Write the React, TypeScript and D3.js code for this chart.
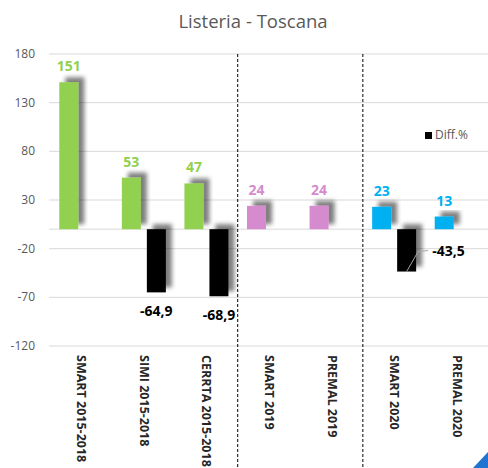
import React from "react";
import * as d3 from "d3";

const categories = ["SMART 2015-2018", "SIMI 2015-2018", "CERRTA 2015-2018", "SMART 2019", "PREMAL 2019", "SMART 2020", "PREMAL 2020"];
const values = [151, 53, 47, 24, 24, 23, 13];
const valueColors = ["#92d050", "#92d050", "#92d050", "#d58bce", "#d58bce", "#00b0f0", "#00b0f0"];
const diffValues: (number | null)[] = [null, -64.9, -68.9, null, null, -43.5, null];
const yTicks = [180, 130, 80, 30, -20, -70, -120];
const groupBreaks = [3, 5];
const title = "Listeria - Toscana";
const legendLabel = "Diff.%";

const W = 488, H = 468;
const FONT = "'Open Sans', 'Noto Sans', sans-serif";

export default function App() {
  const x = d3.scaleBand<string>().domain(categories).range([50, 488]).padding(0);
  const bw = x.bandwidth();
  const x1 = d3.scaleBand<string>().domain(["val", "diff"]).range([(bw - 44) / 2, (bw + 44) / 2]).paddingInner(0.24);
  const y = d3.scaleLinear().domain([-120, 180]).range([346, 54]);
  const fmt = (v: number) => d3.format(".1f")(v).replace(".", ",").replace("\u2212", "-");

  return (
    <svg width={W} height={H} style={{ position: "absolute", left: 0, top: 0, background: "#fff" }} fontFamily={FONT}>
      <defs>
        <filter id="sh" x="-50%" y="-50%" width="200%" height="200%">
          <feDropShadow dx="6" dy="-5" stdDeviation="2.2" floodColor="#000" floodOpacity="0.5" />
        </filter>
      </defs>
      <text x={253} y={28} textAnchor="middle" fontSize={18.5} fill="#595959">{title}</text>
      {yTicks.map((t) => (
        <g key={t}>
          <line x1={49} x2={488} y1={y(t)} y2={y(t)} stroke="#d9d9d9" strokeWidth={1} />
          <text x={35} y={y(t) + 4} textAnchor="end" fontSize={12} fill="#595959">{t}</text>
        </g>
      ))}
      <line x1={49} x2={488} y1={y(0)} y2={y(0)} stroke="#d9d9d9" strokeWidth={1} />
      {groupBreaks.map((i) => (
        <line key={i} x1={x(categories[i])!} x2={x(categories[i])!} y1={y(180)} y2={H} stroke="#000" strokeWidth={1} strokeDasharray="3,2" />
      ))}
      {categories.map((c, i) => {
        const v = values[i];
        const bx = x(c)! + x1("val")!;
        return (
          <g key={c}>
            <rect x={bx} y={y(Math.max(0, v))} width={x1.bandwidth()} height={Math.abs(y(v) - y(0))} fill={valueColors[i]} filter="url(#sh)" />
            <text x={bx + x1.bandwidth() / 2} y={y(v) - 11} textAnchor="middle" fontSize={14} fontWeight="bold" fill={valueColors[i]}>{v}</text>
          </g>
        );
      })}
      {categories.map((c, i) => {
        const d = diffValues[i];
        if (d == null) return null;
        const bx = x(c)! + x1("diff")!;
        const bwid = x1.bandwidth();
        const special = i === 5;
        return (
          <g key={"d" + c}>
            <rect x={bx} y={y(0)} width={bwid} height={y(d) - y(0)} fill="#000" filter="url(#sh)" />
            {special ? (
              <>
                <polyline points={`${bx + bwid / 2},${y(d)} ${bx + bwid + 2},${y(d) - 20} ${bx + bwid + 12},${y(d) - 21}`} fill="none" stroke="#a6a6a6" strokeWidth={1} />
                <text x={bx + bwid + 16} y={y(d) - 16} textAnchor="start" fontSize={14} fontWeight="bold" fill="#000">{fmt(d)}</text>
              </>
            ) : (
              <text x={bx + bwid / 2} y={y(d) + 24} textAnchor="middle" fontSize={14} fontWeight="bold" fill="#000">{fmt(d)}</text>
            )}
          </g>
        );
      })}
      {categories.map((c) => (
        <text key={"l" + c} transform={`translate(${x(c)! + bw / 2 - 4},355) rotate(90)`} fontSize={12.5} fontWeight="bold" fill="#262626">{c}</text>
      ))}
      <rect x={425} y={132} width={7} height={7} fill="#000" />
      <text x={435} y={139} fontSize={12} fill="#595959">{legendLabel}</text>
      <polygon points={`473,${H} ${W},${H} ${W},452`} fill="#1f73d1" />
    </svg>
  );
}
